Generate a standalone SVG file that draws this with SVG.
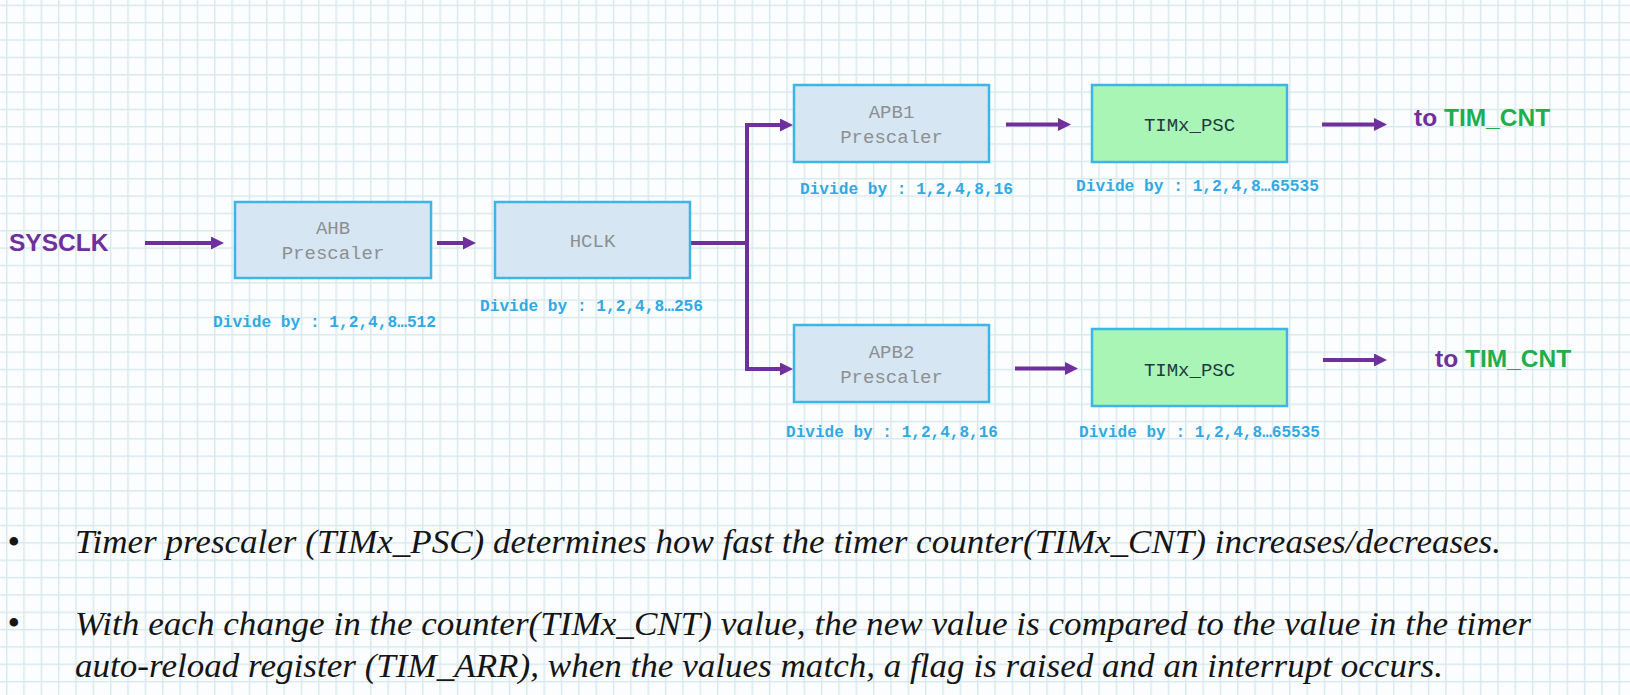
<svg xmlns="http://www.w3.org/2000/svg" width="1630" height="695" viewBox="0 0 1630 695">
  <defs>
    <pattern id="grid" patternUnits="userSpaceOnUse" x="23.3" y="22" width="17.34" height="17.34">
      <rect x="0" y="0" width="17.34" height="1.4" fill="#d8e8ee"/>
      <rect x="0" y="0" width="1.4" height="17.34" fill="#d8e8ee"/>
    </pattern>
    <marker id="ah" markerUnits="userSpaceOnUse" markerWidth="14" markerHeight="14" refX="3" refY="6.5" orient="auto">
      <path d="M0,0 L13,6.5 L0,13 z" fill="#6f2f9c"/>
    </marker>
    <style>
      .box { fill: #d6e6f3; stroke: #3db5e6; stroke-width: 2.5; }
      .gbox { fill: #a8f5b6; stroke: #3db5e6; stroke-width: 2.5; }
      .lbl { font-family: "Liberation Mono", "DejaVu Sans Mono", monospace; font-size: 19px; fill: #8d8f92; text-anchor: middle; }
      .dlbl { font-family: "Liberation Mono", "DejaVu Sans Mono", monospace; font-size: 19px; fill: #1f3c42; text-anchor: middle; }
      .div { font-family: "Liberation Mono", "DejaVu Sans Mono", monospace; font-size: 16px; font-weight: bold; fill: #30a9e4; }
      .conn { fill: none; stroke: #6f2f9c; stroke-width: 4; marker-end: url(#ah); }
      .big { font-family: "Liberation Sans", Arial, sans-serif; font-size: 24.5px; font-weight: bold; }
      .purple { fill: #6f2f9c; }
      .green { fill: #1fae4a; }
      .body { font-family: "Liberation Serif", "Times New Roman", serif; font-size: 34px; font-style: italic; fill: #151515; }
      .bullet { font-family: "Liberation Serif", "Times New Roman", serif; font-size: 36px; fill: #151515; }
    </style>
  </defs>

  <rect x="0" y="0" width="1630" height="695" fill="#fbfdfe"/>
  <rect x="0" y="0" width="1630" height="695" fill="url(#grid)"/>

  <g id="connectors">
    <path class="conn" d="M145,243 H214"/>
    <path class="conn" d="M437,243 H466"/>
    <path class="conn" d="M690,243 H747 V125 H783"/>
    <path class="conn" d="M747,243 V369 H783"/>
    <path class="conn" d="M1006,124.5 H1061"/>
    <path class="conn" d="M1322,124.5 H1377"/>
    <path class="conn" d="M1015,368.5 H1068"/>
    <path class="conn" d="M1323,360 H1377"/>
  </g>

  <g id="sysclk">
    <text class="big purple" x="9" y="251">SYSCLK</text>
  </g>

  <g id="ahb">
    <rect class="box" x="235" y="202" width="196" height="76"/>
    <text class="lbl" x="333" y="234">AHB</text>
    <text class="lbl" x="333" y="259">Prescaler</text>
    <text class="div" x="213" y="327" textLength="223" lengthAdjust="spacingAndGlyphs">Divide by : 1,2,4,8…512</text>
  </g>

  <g id="hclk">
    <rect class="box" x="495" y="202" width="195" height="76"/>
    <text class="lbl" x="592.5" y="247">HCLK</text>
    <text class="div" x="480" y="311" textLength="223" lengthAdjust="spacingAndGlyphs">Divide by : 1,2,4,8…256</text>
  </g>

  <g id="apb1">
    <rect class="box" x="794" y="85" width="195" height="77"/>
    <text class="lbl" x="891.5" y="118">APB1</text>
    <text class="lbl" x="891.5" y="143">Prescaler</text>
    <text class="div" x="800" y="194" textLength="213" lengthAdjust="spacingAndGlyphs">Divide by : 1,2,4,8,16</text>
  </g>

  <g id="apb2">
    <rect class="box" x="794" y="325" width="195" height="77"/>
    <text class="lbl" x="891.5" y="358">APB2</text>
    <text class="lbl" x="891.5" y="383">Prescaler</text>
    <text class="div" x="786" y="437" textLength="212" lengthAdjust="spacingAndGlyphs">Divide by : 1,2,4,8,16</text>
  </g>

  <g id="timx_psc1">
    <rect class="gbox" x="1092" y="85" width="195" height="77"/>
    <text class="dlbl" x="1189.5" y="131">TIMx_PSC</text>
    <text class="div" x="1076" y="191" textLength="243" lengthAdjust="spacingAndGlyphs">Divide by : 1,2,4,8…65535</text>
  </g>

  <g id="timx_psc2">
    <rect class="gbox" x="1092" y="329" width="195" height="77"/>
    <text class="dlbl" x="1189.5" y="376">TIMx_PSC</text>
    <text class="div" x="1079" y="437" textLength="241" lengthAdjust="spacingAndGlyphs">Divide by : 1,2,4,8…65535</text>
  </g>

  <g id="out1">
    <text class="big" x="1414" y="126"><tspan class="purple">to </tspan><tspan class="green">TIM_CNT</tspan></text>
  </g>

  <g id="out2">
    <text class="big" x="1435" y="367"><tspan class="purple">to </tspan><tspan class="green">TIM_CNT</tspan></text>
  </g>

  <g id="notes">
    <text class="bullet" x="7.5" y="554">•</text>
    <text class="body" x="75" y="553" textLength="1426" lengthAdjust="spacingAndGlyphs">Timer prescaler (TIMx_PSC) determines how fast the timer counter(TIMx_CNT) increases/decreases.</text>
    <text class="bullet" x="7.5" y="635">•</text>
    <text class="body" x="75" y="635" textLength="1456" lengthAdjust="spacingAndGlyphs">With each change in the counter(TIMx_CNT) value, the new value is compared to the value in the timer</text>
    <text class="body" x="75" y="677" textLength="1368" lengthAdjust="spacingAndGlyphs">auto-reload register (TIM_ARR), when the values match, a flag is raised and an interrupt occurs.</text>
  </g>
</svg>
